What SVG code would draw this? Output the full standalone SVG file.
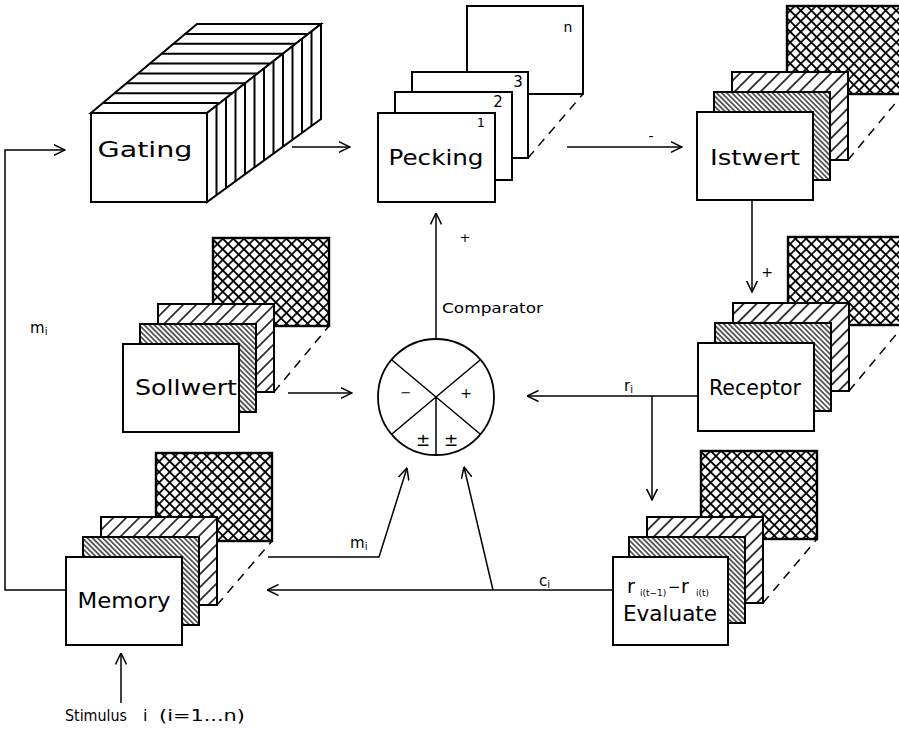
<svg xmlns="http://www.w3.org/2000/svg" width="899" height="729" viewBox="0 0 899 729">
<style>
text{font-family:"DejaVu Sans","Liberation Sans",sans-serif;fill:#000}
.lbl{font-size:22px;text-anchor:middle}
.box{fill:#fff;stroke:#000;stroke-width:2}
.hd{stroke:#000;stroke-width:2}
.ln{fill:none;stroke:#000;stroke-width:1.5}
.con{fill:none;stroke:#000;stroke-width:1.5;marker-end:url(#ah)}
.dash{fill:none;stroke:#000;stroke-width:1.5;stroke-dasharray:9 7}
.sm{font-size:15px}
.sub{font-size:10px}
.xh{fill:url(#cross);stroke-width:2.4}
.sp{fill:url(#sparse)}
.dn{fill:url(#dense)}
</style>
<defs>
<marker id="ah" markerUnits="userSpaceOnUse" viewBox="0 0 12 12" markerWidth="12" markerHeight="12" refX="11.5" refY="6" orient="auto">
<path d="M0,0.5 L11.5,6 L0,11.5" fill="none" stroke="#000" stroke-width="1.5"/>
</marker>
<pattern id="cross" width="7.5" height="7.5" patternUnits="userSpaceOnUse" patternTransform="rotate(45)">
<rect width="7.5" height="7.5" fill="#fff"/>
<path d="M0,3.75 H7.5 M3.75,0 V7.5" stroke="#000" stroke-width="1.7"/>
</pattern>
<pattern id="sparse" width="9.2" height="9.2" patternUnits="userSpaceOnUse" patternTransform="rotate(45)">
<rect width="9.2" height="9.2" fill="#fff"/>
<path d="M4.6,0 V9.2" stroke="#000" stroke-width="1.5"/>
</pattern>
<pattern id="dense" width="3.6" height="3.6" patternUnits="userSpaceOnUse" patternTransform="rotate(-45)">
<rect width="3.6" height="3.6" fill="#fff"/>
<path d="M1.8,0 V3.6" stroke="#000" stroke-width="1.2"/>
</pattern>
</defs>
<rect width="899" height="729" fill="#fff"/>

<g id="connectors">
<path class="con" d="M66,590 H5 V150 H65"/>
<path class="con" d="M292,147 H350"/>
<path class="con" d="M567,147 H682"/>
<path class="con" d="M436,339 V213"/>
<path class="con" d="M752,200 V292"/>
<path class="con" d="M698,396 H527"/>
<path class="con" d="M652,396 V500"/>
<path class="con" d="M288,393 H352"/>
<path class="con" d="M268,557 H379 L407,468"/>
<path class="con" d="M613,590 H267"/>
<path class="con" d="M493,590 L464,467"/>
<path class="con" d="M121,703 V653"/>
<text x="651" y="141" font-size="14" text-anchor="middle">-</text>
<text x="465" y="242" font-size="13" text-anchor="middle">+</text>
<text x="767" y="277" font-size="14" text-anchor="middle">+</text>
<text x="442" y="313" font-size="14" textLength="101" lengthAdjust="spacingAndGlyphs">Comparator</text>
<text x="624" y="391" class="sm">r<tspan class="sub" dy="2">i</tspan></text>
<text x="350" y="548" class="sm">m<tspan class="sub" dy="2">i</tspan></text>
<text x="539" y="586" class="sm">c<tspan class="sub" dy="2">i</tspan></text>
<text x="30" y="333" class="sm">m<tspan class="sub" dy="2">i</tspan></text>
</g>

<g id="gating">
<polygon class="box" points="91,113 207,113 321,24 197,24"/>
<polygon class="box" points="207,113 321,24 321,119 207,202"/>
<g class="hd">
<line x1="102.8" y1="103.1" x2="219.7" y2="103.1"/>
<line x1="114.6" y1="93.2" x2="232.3" y2="93.2"/>
<line x1="126.3" y1="83.3" x2="245" y2="83.3"/>
<line x1="138.1" y1="73.4" x2="257.7" y2="73.4"/>
<line x1="149.9" y1="63.6" x2="270.3" y2="63.6"/>
<line x1="161.7" y1="53.7" x2="283" y2="53.7"/>
<line x1="173.4" y1="43.8" x2="295.7" y2="43.8"/>
<line x1="185.2" y1="33.9" x2="308.3" y2="33.9"/>
<line x1="216.5" y1="105.6" x2="216.5" y2="195.1"/>
<line x1="226" y1="98.2" x2="226" y2="188.2"/>
<line x1="235.5" y1="90.75" x2="235.5" y2="181.25"/>
<line x1="245" y1="83.3" x2="245" y2="174.3"/>
<line x1="254.5" y1="75.9" x2="254.5" y2="167.4"/>
<line x1="264" y1="68.5" x2="264" y2="160.5"/>
<line x1="273.5" y1="61.1" x2="273.5" y2="153.6"/>
<line x1="283" y1="53.7" x2="283" y2="146.7"/>
<line x1="292.5" y1="46.25" x2="292.5" y2="139.75"/>
<line x1="302" y1="38.8" x2="302" y2="132.8"/>
<line x1="311.5" y1="31.4" x2="311.5" y2="125.9"/>
</g>
<rect class="box" x="91" y="113" width="116" height="89"/>
<text class="lbl" x="145" y="157" font-size="24" textLength="95" lengthAdjust="spacingAndGlyphs">Gating</text>
</g>

<g id="pecking">
<rect class="box" x="467" y="6" width="116" height="88"/>
<line class="dash" x1="528" y1="158" x2="583" y2="94"/>
<rect class="box" x="412" y="72" width="116" height="86"/>
<rect class="box" x="395" y="92" width="117" height="88"/>
<rect class="box" x="378" y="113" width="117" height="89"/>
<text x="568" y="32" font-size="14" text-anchor="middle">n</text>
<text x="518" y="87" font-size="15" text-anchor="middle">3</text>
<text x="498" y="107" font-size="15" text-anchor="middle">2</text>
<text x="481" y="127" font-size="13" text-anchor="middle">1</text>
<text class="lbl" x="436" y="165" textLength="95" lengthAdjust="spacingAndGlyphs">Pecking</text>
</g>

<g id="istwert">
<rect class="box xh" x="787" y="6" width="116" height="88"/>
<line class="dash" x1="848" y1="160" x2="903" y2="94"/>
<rect class="box sp" x="732" y="72" width="116" height="88"/>
<rect class="box dn" x="714" y="92" width="116" height="88"/>
<rect class="box" x="697" y="112" width="116" height="88"/>
<text class="lbl" x="755" y="165" textLength="90" lengthAdjust="spacingAndGlyphs">Istwert</text>
</g>

<g id="receptor">
<rect class="box xh" x="788" y="237" width="116" height="88"/>
<line class="dash" x1="849" y1="391" x2="904" y2="325"/>
<rect class="box sp" x="733" y="303" width="116" height="88"/>
<rect class="box dn" x="715" y="323" width="116" height="88"/>
<rect class="box" x="698" y="343" width="116" height="88"/>
<text class="lbl" x="755" y="395" textLength="92" lengthAdjust="spacingAndGlyphs">Receptor</text>
</g>

<g id="sollwert">
<rect class="box xh" x="213" y="238" width="116" height="88"/>
<line class="dash" x1="274" y1="392" x2="329" y2="326"/>
<rect class="box sp" x="158" y="304" width="116" height="88"/>
<rect class="box dn" x="140" y="324" width="116" height="88"/>
<rect class="box" x="123" y="344" width="116" height="88"/>
<text class="lbl" x="186" y="395" textLength="102" lengthAdjust="spacingAndGlyphs">Sollwert</text>
</g>

<g id="memory">
<rect class="box xh" x="156" y="453" width="116" height="88"/>
<line class="dash" x1="217" y1="605" x2="272" y2="541"/>
<rect class="box sp" x="101" y="517" width="116" height="88"/>
<rect class="box dn" x="83" y="537" width="116" height="88"/>
<rect class="box" x="66" y="557" width="116" height="88"/>
<text class="lbl" x="124" y="608" textLength="93" lengthAdjust="spacingAndGlyphs">Memory</text>
</g>

<g id="evaluate">
<rect class="box xh" x="701" y="451" width="116" height="88"/>
<line class="dash" x1="763" y1="603" x2="817" y2="539"/>
<rect class="box sp" x="647" y="517" width="116" height="86"/>
<rect class="box dn" x="629" y="537" width="116" height="86"/>
<rect class="box" x="613" y="557" width="115" height="88"/>
<text y="593"><tspan x="627" font-size="19">r</tspan><tspan x="640" dy="3" font-size="9">i(t−1)</tspan><tspan x="668" dy="-4" font-size="15">−</tspan><tspan x="681" dy="1" font-size="19">r</tspan><tspan x="696" dy="3" font-size="9">i(t)</tspan></text>
<text class="lbl" x="670" y="621" font-size="19" textLength="94" lengthAdjust="spacingAndGlyphs">Evaluate</text>
</g>

<g id="comparator">
<circle cx="436" cy="397" r="58" fill="#fff" stroke="#000" stroke-width="1.8"/>
<path class="ln" d="M391.6,359.7 L480.4,434.3 M480.4,359.7 L391.6,434.3 M436,397 V455"/>
<text x="406" y="397" font-size="13" text-anchor="middle">−</text>
<text x="466" y="398" font-size="14" text-anchor="middle">+</text>
<text x="423" y="446" font-size="17" text-anchor="middle">±</text>
<text x="451" y="446" font-size="17" text-anchor="middle">±</text>
</g>

<g id="stimulus">
<text x="65" y="721" font-size="16" textLength="62" lengthAdjust="spacingAndGlyphs">Stimulus</text>
<text x="143" y="721" font-size="16">i</text>
<text x="159" y="721" font-size="16" textLength="86" lengthAdjust="spacingAndGlyphs">(i=1...n)</text>
</g>
</svg>
